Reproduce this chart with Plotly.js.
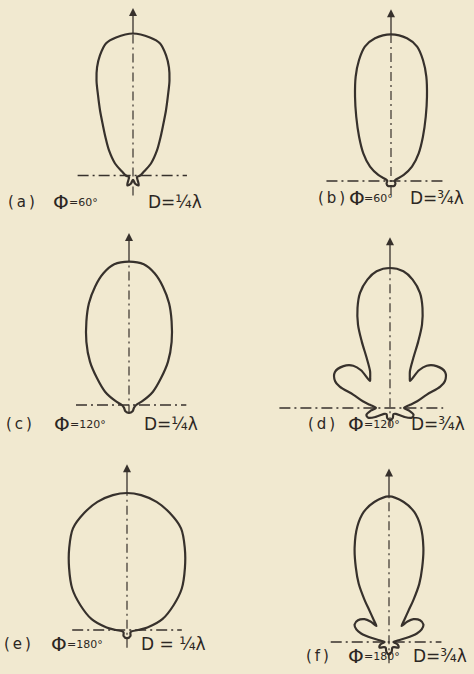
<!DOCTYPE html>
<html>
<head>
<meta charset="utf-8">
<script src="https://cdn.plot.ly/plotly-3.0.1.min.js"></script>
<style>
html,body{margin:0;padding:0;background:#f1e9d0;}
#chart{width:474px;height:674px;}
</style>
</head>
<body>
<div id="chart"></div>
<script>
// Field patterns of a two-element array, one half of each (symmetric) pattern.
// theta: degrees measured clockwise from the array axis; r: relative field strength.
const thetaA = [0, 7, 11.6, 15.4, 18.4, 21, 23.6, 26.9, 31, 35.9, 43.8, 56.3, 70, 90, 110, 130, 150, 165, 180];
const rA     = [1, 0.979, 0.949, 0.877, 0.802, 0.717, 0.615, 0.513, 0.411, 0.33, 0.244, 0.152, 0.082, 0.05, 0.03, 0.04, 0.08, 0.06, 0.03];

const thetaB = [0, 6.4, 11, 14.8, 18.7, 23.1, 28.4, 35.8, 45, 55.7, 64.7, 77, 90, 120, 150, 180];
const rB     = [1, 0.979, 0.933, 0.853, 0.751, 0.625, 0.498, 0.372, 0.267, 0.173, 0.096, 0.03, 0.025, 0.035, 0.04, 0.035];

const thetaC = [0, 6, 11, 16, 21.5, 27, 34, 42, 50, 61, 73, 90, 120, 150, 180];
const rC     = [1, 0.987, 0.936, 0.859, 0.763, 0.655, 0.532, 0.407, 0.292, 0.191, 0.102, 0.05, 0.04, 0.05, 0.055];

const thetaD = [0, 5.6, 10, 14.6, 18, 21, 23, 25, 28.5, 33, 36.5, 37.5, 41, 48, 57, 64, 67, 70, 76, 81, 90, 98, 106, 114, 122, 135, 150, 165, 180];
const rD     = [1, 0.981, 0.931, 0.849, 0.751, 0.638, 0.517, 0.394, 0.298, 0.26, 0.24, 0.34, 0.40, 0.447, 0.47, 0.436, 0.39, 0.28, 0.2, 0.145, 0.1, 0.14, 0.175, 0.17, 0.12, 0.06, 0.05, 0.075, 0.085];

const thetaE = [0, 6, 13, 20, 28, 35, 43, 53, 62, 73, 83, 90, 120, 150, 180];
const rE     = [1, 0.99, 0.96, 0.91, 0.84, 0.735, 0.62, 0.5, 0.385, 0.27, 0.15, 0.08, 0.03, 0.05, 0.06];

const thetaF = [0, 6, 11, 15.4, 20, 24, 27.5, 30, 32, 35, 38, 42, 47, 55, 63, 69, 73, 77, 82, 90, 105, 120, 135, 150, 165, 180];
const rF     = [1, 0.966, 0.909, 0.82, 0.69, 0.56, 0.45, 0.34, 0.25, 0.18, 0.14, 0.19, 0.23, 0.26, 0.265, 0.24, 0.2, 0.12, 0.05, 0.03, 0.06, 0.075, 0.05, 0.045, 0.07, 0.085];

// Caption texts
const panelTags     = ['(a)', '(b)', '(c)', '(d)', '(e)', '(f)'];
const phaseLabels   = ['=60°', '=60°', '=120°', '=120°', '=180°', '=180°'];
const spacingLabels = ['D=¼λ', 'D=¾λ', 'D=¼λ', 'D=¾λ', 'D = ¼λ', 'D=¾λ'];

const W = 474, H = 674;
const INK = '#37312c';
const BG = '#f1e9d0';

// Drawing geometry of each diagram: origin in px, main-lobe length in px,
// reference-line extents in field units, caption placement in px.
const panels = [
  {th: thetaA, r: rA, ox: 133, oy: 175.5, L: 142,   left: 0.39, right: 0.38,  below: 0.14,  tip: 1.18, cap: {y: 202, tag: 6,   phi: 51,  phase: 67,  d: 146}},
  {th: thetaB, r: rB, ox: 391, oy: 181,   L: 146.7, left: 0.44, right: 0.375, below: 0.095, tip: 1.17, cap: {y: 198, tag: 316, phi: 347, phase: 362, d: 408}},
  {th: thetaC, r: rC, ox: 129, oy: 405,   L: 143.3, left: 0.37, right: 0.40,  below: 0.06,  tip: 1.2,  cap: {y: 424, tag: 4,   phi: 52,  phase: 68,  d: 142}},
  {th: thetaD, r: rD, ox: 390, oy: 408,   L: 140,   left: 0.79, right: 0.38,  below: 0.13,  tip: 1.22, cap: {y: 424, tag: 306, phi: 346, phase: 362, d: 409}},
  {th: thetaE, r: rE, ox: 127, oy: 630,   L: 137,   left: 0.40, right: 0.40,  below: 0.13,  tip: 1.21, cap: {y: 644, tag: 2,   phi: 49,  phase: 65,  d: 139}},
  {th: thetaF, r: rF, ox: 389, oy: 642,   L: 145.7, left: 0.40, right: 0.36,  below: 0.145, tip: 1.19, cap: {y: 656, tag: 304, phi: 346, phase: 362, d: 411}}
];

// Mirror a half pattern about the array axis into a closed curve (x across, y along the axis).
function patternXY(th, r) {
  const x = [], y = [];
  const push = function (t, v) {
    const a = t * Math.PI / 180;
    x.push(v * Math.sin(a));
    y.push(v * Math.cos(a));
  };
  for (let i = 0; i < th.length; i++) push(th[i], r[i]);
  for (let i = th.length - 2; i >= 0; i--) push(360 - th[i], r[i]);
  return {x: x, y: y};
}

const traces = [];
const layout = {
  width: W, height: H,
  margin: {l: 0, r: 0, t: 0, b: 0},
  paper_bgcolor: BG,
  plot_bgcolor: 'rgba(0,0,0,0)',
  showlegend: false,
  annotations: []
};

panels.forEach(function (p, i) {
  const n = i === 0 ? '' : String(i + 1);
  // pixel box of this diagram; axis ranges keep 1 unit = L px with the origin at (ox, oy)
  const x0 = Math.max(0, p.ox - 132), x1 = Math.min(W, p.ox + 83);
  const y0 = Math.max(0, p.oy - 180), y1 = Math.min(H, p.oy + 30);
  const hidden = {visible: false, showgrid: false, zeroline: false, fixedrange: true};
  layout['xaxis' + n] = Object.assign({}, hidden, {
    domain: [x0 / W, x1 / W], range: [(x0 - p.ox) / p.L, (x1 - p.ox) / p.L], anchor: 'y' + n
  });
  layout['yaxis' + n] = Object.assign({}, hidden, {
    domain: [1 - y1 / H, 1 - y0 / H], range: [(p.oy - y1) / p.L, (p.oy - y0) / p.L], anchor: 'x' + n
  });
  const common = {type: 'scatter', xaxis: 'x' + n, yaxis: 'y' + n, cliponaxis: false, hoverinfo: 'skip'};

  // horizontal reference line
  traces.push(Object.assign({}, common, {
    x: [-p.left, p.right], y: [0, 0], mode: 'lines',
    line: {color: INK, width: 1.3, dash: '11px,4px,2px,4px'}
  }));
  // array axis (dash-dot) through the pattern
  traces.push(Object.assign({}, common, {
    x: [0, 0], y: [-p.below, 1], mode: 'lines',
    line: {color: INK, width: 1.2, dash: '9px,4px,2px,4px'}
  }));
  // arrow shaft and head beyond the main lobe
  traces.push(Object.assign({}, common, {
    x: [0, 0], y: [1, p.tip - 0.02], mode: 'lines',
    line: {color: INK, width: 1.3}
  }));
  traces.push(Object.assign({}, common, {
    x: [0], y: [p.tip], mode: 'markers',
    marker: {symbol: 'arrow-up', size: 8, color: INK, line: {width: 0}}
  }));
  // radiation pattern
  const f = patternXY(p.th, p.r);
  traces.push(Object.assign({}, common, {
    x: f.x, y: f.y, mode: 'lines',
    line: {color: INK, width: 2.2, shape: 'spline', smoothing: 0.9}
  }));

  // caption
  const yy = 1 - p.cap.y / H;
  const font = 'DejaVu Sans, sans-serif';
  const ann = function (x, text, size) {
    layout.annotations.push({
      xref: 'paper', yref: 'paper', x: x / W, y: yy, xanchor: 'left', yanchor: 'middle',
      text: text, showarrow: false, font: {family: font, size: size, color: '#2c2723'}
    });
  };
  ann(p.cap.tag, panelTags[i].replace('(', '(\u2009').replace(')', '\u2009)'), 15);
  ann(p.cap.phi, 'Φ', 20);
  ann(p.cap.phase, phaseLabels[i], 11);
  ann(p.cap.d, spacingLabels[i], 17);
});

Plotly.newPlot('chart', traces, layout, {staticPlot: true, displayModeBar: false});
</script>
</body>
</html>
